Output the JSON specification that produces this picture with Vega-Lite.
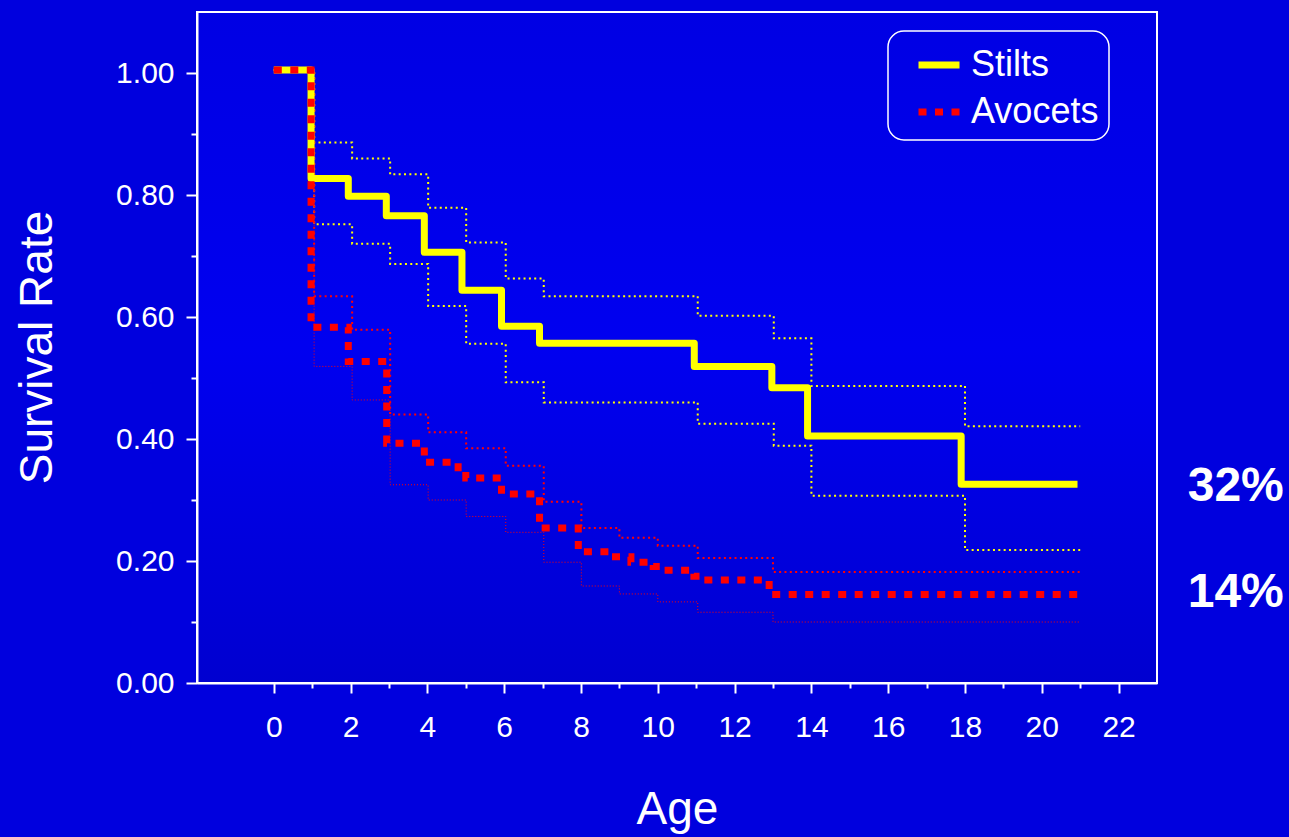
{
  "$schema": "https://vega.github.io/schema/vega-lite/v6.json",
  "width": 960,
  "height": 671,
  "autosize": {"type": "none"},
  "padding": {"left": 197, "top": 12, "right": 132, "bottom": 154},
  "background": "#0000DE",
  "config": {
    "view": {"stroke": "white", "strokeWidth": 2, "fill": {"gradient": "linear", "x1": 0, "y1": 0, "x2": 0, "y2": 1, "stops": [{"offset": 0, "color": "#0000E4"}, {"offset": 0.5, "color": "#0000F0"}, {"offset": 1, "color": "#0000D0"}]}},
    "font": "Liberation Sans",
    "legend": {
      "orient": "none", "legendX": 691, "legendY": 19,
      "strokeColor": "white", "strokeWidth": 1.5, "cornerRadius": 16, "padding": 10,
      "labelFont": "Liberation Sans", "labelFontSize": 36, "labelColor": "white", "labelOffset": 8,
      "symbolType": "stroke", "symbolSize": 1681, "symbolStrokeWidth": 7, "symbolOffset": 17,
      "rowPadding": 5, "labelLimit": 400
    }
  },
  "datasets": {
    "curves": [
      {"species": "Stilts", "band": "est", "age": 0, "rate": 1.005},
      {"species": "Stilts", "band": "est", "age": 0.97, "rate": 0.827},
      {"species": "Stilts", "band": "est", "age": 1.94, "rate": 0.798},
      {"species": "Stilts", "band": "est", "age": 2.93, "rate": 0.766},
      {"species": "Stilts", "band": "est", "age": 3.92, "rate": 0.706},
      {"species": "Stilts", "band": "est", "age": 4.9, "rate": 0.644},
      {"species": "Stilts", "band": "est", "age": 5.93, "rate": 0.585},
      {"species": "Stilts", "band": "est", "age": 6.92, "rate": 0.557},
      {"species": "Stilts", "band": "est", "age": 10.95, "rate": 0.519},
      {"species": "Stilts", "band": "est", "age": 12.97, "rate": 0.484},
      {"species": "Stilts", "band": "est", "age": 13.9, "rate": 0.405},
      {"species": "Stilts", "band": "est", "age": 17.9, "rate": 0.326},
      {"species": "Stilts", "band": "est", "age": 20.93, "rate": 0.326},
      {"species": "Stilts", "band": "hi", "age": 0, "rate": 1.005},
      {"species": "Stilts", "band": "hi", "age": 1.05, "rate": 0.886},
      {"species": "Stilts", "band": "hi", "age": 2.04, "rate": 0.86},
      {"species": "Stilts", "band": "hi", "age": 3.03, "rate": 0.834},
      {"species": "Stilts", "band": "hi", "age": 4.02, "rate": 0.779},
      {"species": "Stilts", "band": "hi", "age": 5.01, "rate": 0.722},
      {"species": "Stilts", "band": "hi", "age": 6.04, "rate": 0.663},
      {"species": "Stilts", "band": "hi", "age": 7.03, "rate": 0.634},
      {"species": "Stilts", "band": "hi", "age": 11.04, "rate": 0.602},
      {"species": "Stilts", "band": "hi", "age": 13.02, "rate": 0.565},
      {"species": "Stilts", "band": "hi", "age": 14.0, "rate": 0.487},
      {"species": "Stilts", "band": "hi", "age": 18.0, "rate": 0.421},
      {"species": "Stilts", "band": "hi", "age": 21.0, "rate": 0.421},
      {"species": "Stilts", "band": "lo", "age": 0, "rate": 1.005},
      {"species": "Stilts", "band": "lo", "age": 1.05, "rate": 0.752},
      {"species": "Stilts", "band": "lo", "age": 2.04, "rate": 0.72},
      {"species": "Stilts", "band": "lo", "age": 3.03, "rate": 0.687},
      {"species": "Stilts", "band": "lo", "age": 4.02, "rate": 0.618},
      {"species": "Stilts", "band": "lo", "age": 5.01, "rate": 0.556},
      {"species": "Stilts", "band": "lo", "age": 6.04, "rate": 0.493},
      {"species": "Stilts", "band": "lo", "age": 7.03, "rate": 0.46},
      {"species": "Stilts", "band": "lo", "age": 11.04, "rate": 0.425},
      {"species": "Stilts", "band": "lo", "age": 13.02, "rate": 0.389},
      {"species": "Stilts", "band": "lo", "age": 14.0, "rate": 0.307},
      {"species": "Stilts", "band": "lo", "age": 18.0, "rate": 0.218},
      {"species": "Stilts", "band": "lo", "age": 21.0, "rate": 0.218},
      {"species": "Avocets", "band": "est", "age": 0, "rate": 1.005},
      {"species": "Avocets", "band": "est", "age": 0.97, "rate": 0.583},
      {"species": "Avocets", "band": "est", "age": 1.94, "rate": 0.527},
      {"species": "Avocets", "band": "est", "age": 2.94, "rate": 0.393},
      {"species": "Avocets", "band": "est", "age": 3.92, "rate": 0.362},
      {"species": "Avocets", "band": "est", "age": 4.8, "rate": 0.346},
      {"species": "Avocets", "band": "est", "age": 5.0, "rate": 0.336},
      {"species": "Avocets", "band": "est", "age": 5.93, "rate": 0.31},
      {"species": "Avocets", "band": "est", "age": 6.92, "rate": 0.254},
      {"species": "Avocets", "band": "est", "age": 7.93, "rate": 0.215},
      {"species": "Avocets", "band": "est", "age": 8.8, "rate": 0.207},
      {"species": "Avocets", "band": "est", "age": 9.3, "rate": 0.198},
      {"species": "Avocets", "band": "est", "age": 9.88, "rate": 0.191},
      {"species": "Avocets", "band": "est", "age": 10.1, "rate": 0.185},
      {"species": "Avocets", "band": "est", "age": 10.94, "rate": 0.175},
      {"species": "Avocets", "band": "est", "age": 11.13, "rate": 0.169},
      {"species": "Avocets", "band": "est", "age": 12.9, "rate": 0.145},
      {"species": "Avocets", "band": "est", "age": 20.93, "rate": 0.145},
      {"species": "Avocets", "band": "hi", "age": 0, "rate": 1.005},
      {"species": "Avocets", "band": "hi", "age": 1.05, "rate": 0.634},
      {"species": "Avocets", "band": "hi", "age": 2.04, "rate": 0.579},
      {"species": "Avocets", "band": "hi", "age": 3.03, "rate": 0.44},
      {"species": "Avocets", "band": "hi", "age": 4.02, "rate": 0.411},
      {"species": "Avocets", "band": "hi", "age": 5.01, "rate": 0.385},
      {"species": "Avocets", "band": "hi", "age": 6.04, "rate": 0.356},
      {"species": "Avocets", "band": "hi", "age": 7.03, "rate": 0.297},
      {"species": "Avocets", "band": "hi", "age": 8.01, "rate": 0.254},
      {"species": "Avocets", "band": "hi", "age": 9.0, "rate": 0.238},
      {"species": "Avocets", "band": "hi", "age": 10.0, "rate": 0.225},
      {"species": "Avocets", "band": "hi", "age": 11.04, "rate": 0.205},
      {"species": "Avocets", "band": "hi", "age": 13.0, "rate": 0.182},
      {"species": "Avocets", "band": "hi", "age": 21.0, "rate": 0.182},
      {"species": "Avocets", "band": "lo", "age": 0, "rate": 1.005},
      {"species": "Avocets", "band": "lo", "age": 1.05, "rate": 0.519},
      {"species": "Avocets", "band": "lo", "age": 2.04, "rate": 0.464},
      {"species": "Avocets", "band": "lo", "age": 3.03, "rate": 0.325},
      {"species": "Avocets", "band": "lo", "age": 4.02, "rate": 0.3},
      {"species": "Avocets", "band": "lo", "age": 5.01, "rate": 0.273},
      {"species": "Avocets", "band": "lo", "age": 6.04, "rate": 0.247},
      {"species": "Avocets", "band": "lo", "age": 7.03, "rate": 0.198},
      {"species": "Avocets", "band": "lo", "age": 8.01, "rate": 0.159},
      {"species": "Avocets", "band": "lo", "age": 9.0, "rate": 0.146},
      {"species": "Avocets", "band": "lo", "age": 10.0, "rate": 0.133},
      {"species": "Avocets", "band": "lo", "age": 11.04, "rate": 0.116},
      {"species": "Avocets", "band": "lo", "age": 13.0, "rate": 0.1},
      {"species": "Avocets", "band": "lo", "age": 21.0, "rate": 0.1}
    ],
    "pct": [
      {"label": "32%", "age": 25.05, "rate": 0.321},
      {"label": "14%", "age": 25.05, "rate": 0.148}
    ]
  },
  "encoding": {
    "x": {
      "field": "age", "type": "quantitative",
      "scale": {"domain": [-2, 23], "nice": false, "zero": false},
      "axis": {
        "title": "Age", "grid": false,
        "values": [0,1,2,3,4,5,6,7,8,9,10,11,12,13,14,15,16,17,18,19,20,21,22],
        "format": "d",
        "labelExpr": "datum.value % 2 === 0 ? datum.label : ''",
        "tickSize": {"condition": {"test": "datum.value % 2 !== 0", "value": 5}, "value": 10},
        "tickColor": "white", "tickWidth": 2,
        "domainColor": "white", "domainWidth": 2,
        "labelColor": "white", "labelFont": "Liberation Sans", "labelFontSize": 30, "labelPadding": 19,
        "labelOverlap": false,
        "titleColor": "white", "titleFont": "Liberation Sans", "titleFontSize": 46, "titleFontWeight": "normal",
        "titleX": 480, "titleY": 140, "titleBaseline": "alphabetic", "titleAlign": "center"
      }
    },
    "y": {
      "field": "rate", "type": "quantitative",
      "scale": {"domain": [0, 1.1], "nice": false, "zero": false},
      "axis": {
        "title": "Survival Rate", "grid": false,
        "values": [0, 0.1, 0.2, 0.3, 0.4, 0.5, 0.6, 0.7, 0.8, 0.9, 1.0],
        "format": ".2f",
        "labelExpr": "round(datum.value * 10) % 2 === 0 ? datum.label : ''",
        "tickSize": {"condition": {"test": "round(datum.value * 10) % 2 !== 0", "value": 6}, "value": 11},
        "tickColor": "white", "tickWidth": 2,
        "domainColor": "white", "domainWidth": 2,
        "labelColor": "white", "labelFont": "Liberation Sans", "labelFontSize": 30, "labelPadding": 12,
        "labelOverlap": false,
        "titleColor": "white", "titleFont": "Liberation Sans", "titleFontSize": 46, "titleFontWeight": "normal",
        "titleAngle": -90, "titleX": -146, "titleY": 335, "titleBaseline": "alphabetic", "titleAlign": "center"
      }
    }
  },
  "layer": [
    {
      "data": {"name": "curves"},
      "transform": [{"filter": "datum.species === 'Stilts' && datum.band !== 'est'"}],
      "mark": {"type": "line", "interpolate": "step-after", "color": "#FFFF00", "strokeWidth": 2, "strokeDash": [2, 3.33]},
      "encoding": {"detail": {"field": "band"}}
    },
    {
      "data": {"name": "curves"},
      "transform": [{"filter": "datum.species === 'Avocets' && datum.band === 'hi'"}],
      "mark": {"type": "line", "interpolate": "step-after", "color": "#FF0000", "strokeWidth": 2, "strokeDash": [2, 3.33]},
      "encoding": {}
    },
    {
      "data": {"name": "curves"},
      "transform": [{"filter": "datum.species === 'Avocets' && datum.band === 'lo'"}],
      "mark": {"type": "line", "interpolate": "step-after", "color": "#FF0000", "strokeWidth": 1, "strokeDash": [1, 2]},
      "encoding": {}
    },
    {
      "data": {"name": "curves"},
      "transform": [{"filter": "datum.species === 'Stilts' && datum.band === 'est'"}],
      "mark": {"type": "line", "interpolate": "step-after", "strokeWidth": 7, "strokeJoin": "round", "strokeCap": "butt"},
      "encoding": {
        "color": {"field": "species", "type": "nominal", "scale": {"domain": ["Stilts", "Avocets"], "range": ["#FFFF00", "#FF0000"]}, "legend": {"title": null}},
        "strokeDash": {"field": "species", "type": "nominal", "scale": {"domain": ["Stilts", "Avocets"], "range": [[1, 0], [8, 8.5]]}, "legend": {"title": null}}
      }
    },
    {
      "data": {"name": "curves"},
      "transform": [{"filter": "datum.species === 'Avocets' && datum.band === 'est'"}],
      "mark": {"type": "line", "interpolate": "step-after", "strokeWidth": 7, "strokeJoin": "miter", "strokeCap": "butt"},
      "encoding": {
        "color": {"field": "species", "type": "nominal", "legend": {"title": null}},
        "strokeDash": {"field": "species", "type": "nominal", "legend": {"title": null}}
      }
    },
    {
      "data": {"name": "pct"},
      "mark": {"type": "text", "color": "white", "font": "Liberation Sans", "fontSize": 48, "fontWeight": "bold", "align": "center", "baseline": "middle"},
      "encoding": {"text": {"field": "label"}}
    }
  ],
  "resolve": {"scale": {"color": "shared", "strokeDash": "shared"}}
}
